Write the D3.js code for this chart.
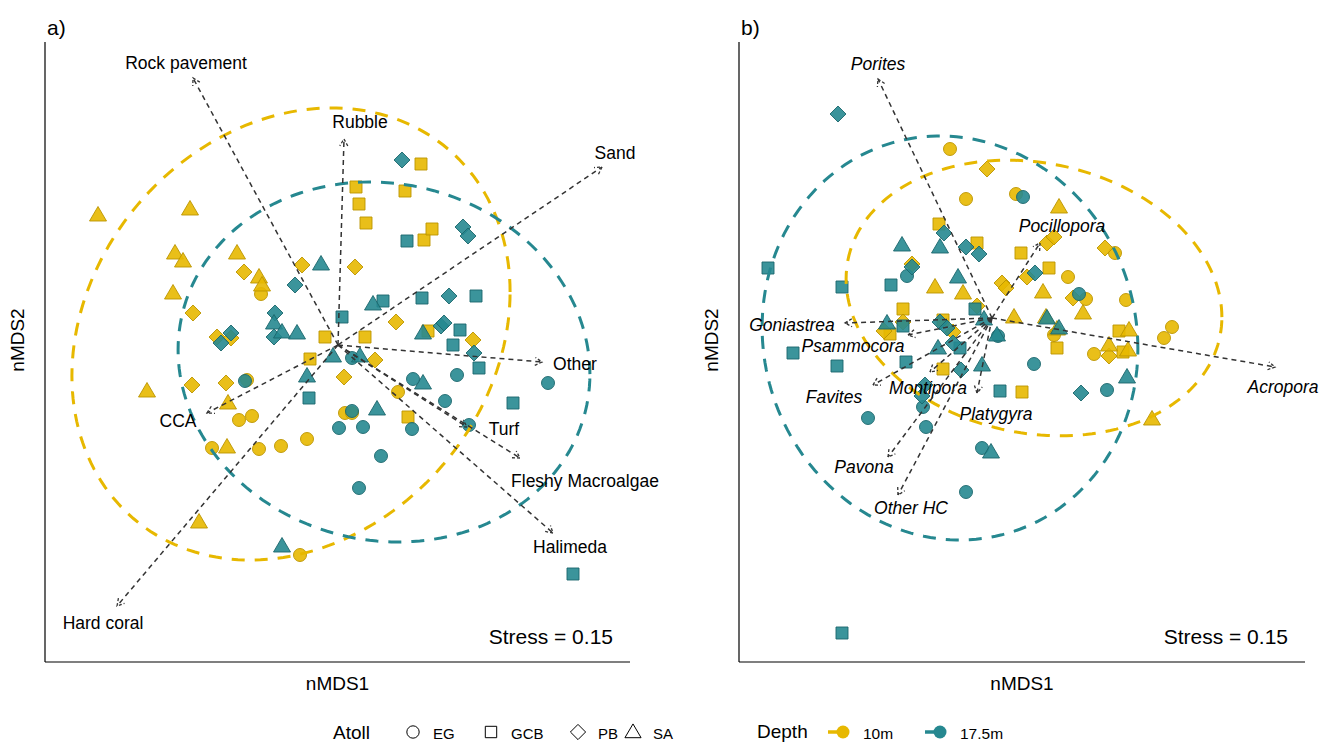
<!DOCTYPE html>
<html><head><meta charset="utf-8">
<script src="https://cdn.jsdelivr.net/npm/d3@7"></script>
<style>body{margin:0;background:#fff} svg{display:block} text{font-family:"Liberation Sans",Arial,Helvetica,sans-serif;fill:#000}</style>
</head><body><svg id="chart" width="1319" height="743"></svg>
<script>
// ---------- DATA ----------
const atolls = ["EG", "GCB", "PB", "SA"];
const depths = ["10m", "17.5m"];
const stressText = "Stress = 0.15";

// Panel a: site scores (nMDS1, nMDS2) by atoll & depth
const a_EG_10 = [[-0.77,0.51],[-0.91,-0.35],[-0.99,-0.75],[-0.86,-0.71],[-1.26,-1.03],[-0.79,-1.04],[-0.57,-1.01],[-0.31,-0.94],[-0.38,-2.10],[0.07,-0.68],[0.14,-0.68],[0.60,-0.47]];
const a_GCB_10 = [[0.83,1.81],[0.18,1.58],[0.67,1.54],[0.21,1.41],[0.28,1.22],[0.86,1.05],[0.94,1.16],[-0.13,0.08],[0.27,0.08],[-0.28,-0.14],[0.90,0.14],[0.70,-0.72]];
const a_PB_10 = [[-0.36,0.80],[0.17,0.78],[-0.94,0.73],[-1.45,0.32],[-1.21,0.08],[-1.07,0.07],[-1.46,-0.40],[-1.12,-0.38],[0.37,-0.15],[0.06,-0.32],[0.58,0.23],[1.35,0.05]];
const a_SA_10 = [[-2.40,1.30],[-1.48,1.36],[-1.63,0.92],[-1.55,0.84],[-1.01,0.92],[-0.79,0.68],[-0.76,0.60],[-1.65,0.52],[-1.91,-0.46],[-1.10,-0.58],[-1.11,-1.02],[-1.39,-1.77]];
const a_EG_17 = [[-0.93,-0.36],[0.14,-0.13],[0.14,-0.66],[0.01,-0.83],[0.25,-0.82],[0.75,-0.34],[1.19,-0.30],[1.07,-0.56],[0.74,-0.84],[1.31,-0.80],[2.10,-0.38],[0.43,-1.11],[0.21,-1.43]];
const a_GCB_17 = [[0.04,0.28],[-0.29,-0.53],[0.69,1.04],[0.45,0.44],[0.84,0.47],[1.38,0.49],[1.22,0.15],[1.15,0.00],[1.41,-0.23],[1.75,-0.58],[2.35,-2.29]];
const a_PB_17 = [[-0.43,0.60],[-0.63,0.32],[-0.64,0.08],[-1.07,0.12],[-1.17,0.02],[0.64,1.85],[1.25,1.18],[1.30,1.09],[1.11,0.49],[1.03,0.19],[1.06,0.22],[1.36,-0.08]];
const a_SA_17 = [[-0.17,0.81],[-0.64,0.22],[-0.56,0.13],[-0.41,0.12],[0.35,0.41],[-0.05,-0.11],[0.22,-0.11],[-0.31,-0.31],[0.39,-0.64],[0.85,0.12],[0.85,-0.38],[-0.56,-2.01]];

// Panel a: benthic category vectors (arrow tip, label position)
const a_vecNames = ["Rock pavement","Rubble","Sand","Other","Turf","Fleshy Macroalgae","Halimeda","CCA","Hard coral"];
const a_vecTips = [[-1.45,2.67],[0.06,2.06],[2.64,1.78],[2.04,-0.17],[1.29,-0.82],[1.82,-1.13],[2.15,-1.88],[-1.31,-0.68],[-2.21,-2.61]];
const a_vecLabels = [[-1.52,2.82],[0.22,2.23],[2.77,1.92],[2.37,-0.19],[1.66,-0.84],[2.47,-1.36],[2.32,-2.02],[-1.60,-0.76],[-2.35,-2.78]];

// Panel b: site scores
const b_EG_10 = [[-0.42,1.69],[-0.26,1.19],[0.24,1.24],[0.76,0.41],[1.23,0.65],[0.94,0.19],[1.34,0.18],[0.62,-0.17],[1.02,-0.36],[1.72,-0.20],[1.80,-0.09]];
const b_GCB_10 = [[-0.53,0.94],[-0.15,0.75],[0.29,0.65],[0.57,0.50],[-0.89,0.09],[-0.49,-0.02],[-1.02,-0.16],[-0.49,-0.51],[0.30,-0.74],[0.65,-0.30],[1.27,-0.13],[1.31,-0.34]];
const b_PB_10 = [[-0.05,1.49],[-0.80,0.54],[0.10,0.35],[0.14,0.30],[0.35,0.41],[0.55,0.75],[0.62,0.81],[0.81,0.20],[1.13,0.70],[-0.15,0.12],[-0.89,-0.04],[-0.39,-0.14],[-1.08,-0.13],[1.17,-0.38]];
const b_SA_10 = [[0.67,1.11],[-0.57,0.31],[-0.29,0.25],[0.51,0.26],[0.22,0.01],[0.54,0.01],[0.65,-0.11],[0.91,0.05],[1.37,-0.12],[1.17,-0.27],[1.36,-0.32],[1.60,-1.01]];
const b_EG_17 = [[0.31,1.21],[-0.85,0.42],[0.87,0.24],[0.06,-0.18],[0.42,-0.46],[1.15,-0.72],[-1.24,-1.00],[-0.69,-0.89],[-0.66,-1.09],[-0.10,-1.30],[-0.26,-1.74]];
const b_GCB_17 = [[-2.24,0.50],[-1.50,0.31],[-1.01,0.33],[-0.89,-0.08],[-0.17,0.09],[-1.99,-0.35],[-1.55,-0.48],[-0.86,-0.44],[-0.32,-0.30],[0.08,-0.73],[-1.50,-3.15]];
const b_PB_17 = [[-1.54,2.04],[-0.48,0.85],[-0.26,0.71],[-0.13,0.64],[-0.80,0.51],[0.43,0.45],[-0.52,-0.04],[-0.45,-0.10],[-0.39,-0.25],[-0.31,-0.52],[-0.67,-0.67],[-0.70,-0.78],[0.89,-0.75]];
const b_SA_17 = [[-0.90,0.73],[-0.52,0.71],[-0.34,0.41],[-1.05,-0.05],[-0.08,-0.01],[0.05,-0.17],[0.55,0.00],[0.67,-0.10],[-0.54,-0.30],[-0.10,-0.47],[1.35,-0.59],[-0.01,-1.34]];

// Panel b: hard coral genus vectors
const b_vecNames = ["Porites","Pocillopora","Acropora","Goniastrea","Psammocora","Favites","Montipora","Platygyra","Pavona","Other HC"];
const b_vecTips = [[-1.14,2.39],[0.48,0.75],[2.83,-0.49],[-1.47,-0.05],[-0.84,-0.17],[-1.19,-0.67],[-0.62,-0.54],[-0.15,-0.75],[-1.04,-1.39],[-0.94,-1.77]];
const b_vecLabels = [[-1.14,2.54],[0.70,0.92],[2.91,-0.69],[-2.00,-0.07],[-1.39,-0.28],[-1.58,-0.79],[-0.64,-0.70],[0.04,-0.96],[-1.28,-1.49],[-0.81,-1.90]];

// 95% ellipses per depth: [centerX, centerY, varX, varY, covXY]
const a_ellipses = {"10m": [-0.47, 0.11, 4.80, 5.11, 0.92], "17.5m": [0.46, -0.17, 4.24, 3.24, -0.25]};
const b_ellipses = {"10m": [0.42, 0.20, 3.53, 1.90, -0.36], "17.5m": [-0.42, -0.20, 3.53, 4.08, -0.20]};

// ---------- STYLE ----------
const fillCol = {"10m": "#E7B800", "17.5m": "#268890"};
const strokeCol = {"10m": "#BB9500", "17.5m": "#1C676D"};

function shapePath(atoll, k) {
  k = k || 1;
  if (atoll === "EG") { const r = 6.5 * k; return `M${r},0A${r},${r} 0 1,1 ${-r},0A${r},${r} 0 1,1 ${r},0Z`; }
  if (atoll === "GCB") { const h = 6 * k; return `M${-h},${-h}H${h}V${h}H${-h}Z`; }
  if (atoll === "PB") { const h = 8 * k; return `M0,${-h}L${h},0L0,${h}L${-h},0Z`; }
  return `M0,${-8.5 * k}L${8.5 * k},${6 * k}L${-8.5 * k},${6 * k}Z`;
}

const svg = d3.select("#chart");

function drawPanel(cfg) {
  const x = d3.scaleLinear().domain(cfg.xDomain).range([cfg.left, cfg.right]);
  const y = d3.scaleLinear().domain(cfg.yDomain).range([cfg.bottom, cfg.top]);
  const g = svg.append("g");

  // points
  const groups = [];
  depths.forEach(dep => atolls.forEach(at => groups.push({dep, at, pts: cfg.sites[dep][at]})));
  groups.forEach(gr => {
    g.selectAll(null).data(gr.pts).enter().append("path")
      .attr("d", shapePath(gr.at))
      .attr("transform", d => `translate(${x(d[0])},${y(d[1])})`)
      .attr("fill", fillCol[gr.dep]).attr("fill-opacity", 0.9)
      .attr("stroke", strokeCol[gr.dep]).attr("stroke-width", 1).attr("stroke-opacity", 0.9);
  });

  // ellipses
  const line = d3.line().x(d => x(d[0])).y(d => y(d[1])).curve(d3.curveLinearClosed);
  depths.forEach(dep => {
    const [cx, cy, vx, vy, cxy] = cfg.ellipses[dep];
    const l11 = Math.sqrt(vx), l21 = cxy / l11, l22 = Math.sqrt(vy - l21 * l21);
    const pts = d3.range(0, 2 * Math.PI, Math.PI / 90).map(t => {
      const c = Math.cos(t), s = Math.sin(t);
      return [cx + l11 * c, cy + l21 * c + l22 * s];
    });
    g.append("path").attr("d", line(pts)).attr("fill", "none")
      .attr("stroke", fillCol[dep]).attr("stroke-width", 3)
      .attr("stroke-dasharray", "13,10");
  });

  // vectors
  const ox = x(0), oy = y(0);
  cfg.vecTips.forEach((t, i) => {
    const tx = x(t[0]), ty = y(t[1]);
    g.append("line").attr("x1", ox).attr("y1", oy).attr("x2", tx).attr("y2", ty)
      .attr("stroke", "#333").attr("stroke-width", 1.5).attr("stroke-dasharray", "5,4");
    const ang = Math.atan2(ty - oy, tx - ox), L = 8, a = Math.PI / 6;
    const head = [[tx - L * Math.cos(ang - a), ty - L * Math.sin(ang - a)], [tx, ty], [tx - L * Math.cos(ang + a), ty - L * Math.sin(ang + a)]];
    g.append("path").attr("d", d3.line()(head)).attr("fill", "none")
      .attr("stroke", "#333").attr("stroke-width", 1.3).attr("stroke-dasharray", "3,2");
    const lp = cfg.vecLabels[i];
    g.append("text").attr("x", x(lp[0])).attr("y", y(lp[1]))
      .attr("text-anchor", "middle").attr("dominant-baseline", "central")
      .style("font-size", "17.5px").style("font-style", cfg.italic ? "italic" : "normal")
      .text(cfg.vecNames[i]);
  });

  // axes lines (no ticks)
  g.append("line").attr("x1", cfg.left).attr("x2", cfg.left).attr("y1", cfg.top).attr("y2", cfg.bottom)
    .attr("stroke", "#000").attr("stroke-width", 1.2);
  g.append("line").attr("x1", cfg.left).attr("x2", cfg.right).attr("y1", cfg.bottom).attr("y2", cfg.bottom)
    .attr("stroke", "#000").attr("stroke-width", 1.2);

  g.append("text").attr("x", (cfg.left + cfg.right) / 2).attr("y", cfg.bottom + 21)
    .attr("text-anchor", "middle").attr("dominant-baseline", "central").style("font-size", "19px").text("nMDS1");
  g.append("text").attr("transform", `translate(${cfg.left - 28},${340}) rotate(-90)`)
    .attr("text-anchor", "middle").attr("dominant-baseline", "central").style("font-size", "19px").text("nMDS2");
  g.append("text").attr("x", cfg.left + 2).attr("y", 27)
    .attr("dominant-baseline", "central").style("font-size", "21px").text(cfg.tag);
  g.append("text").attr("x", cfg.right - 17).attr("y", 636)
    .attr("text-anchor", "end").attr("dominant-baseline", "central").style("font-size", "21px").text(stressText);
}

drawPanel({
  left: 45, right: 630, top: 42, bottom: 662,
  xDomain: [-2.93, 2.92], yDomain: [-3.17, 3.03], tag: "a)", italic: false,
  sites: {"10m": {EG: a_EG_10, GCB: a_GCB_10, PB: a_PB_10, SA: a_SA_10},
          "17.5m": {EG: a_EG_17, GCB: a_GCB_17, PB: a_PB_17, SA: a_SA_17}},
  ellipses: a_ellipses, vecTips: a_vecTips, vecLabels: a_vecLabels, vecNames: a_vecNames
});
drawPanel({
  left: 739, right: 1305, top: 42, bottom: 662,
  xDomain: [-2.53, 3.13], yDomain: [-3.44, 2.76], tag: "b)", italic: true,
  sites: {"10m": {EG: b_EG_10, GCB: b_GCB_10, PB: b_PB_10, SA: b_SA_10},
          "17.5m": {EG: b_EG_17, GCB: b_GCB_17, PB: b_PB_17, SA: b_SA_17}},
  ellipses: b_ellipses, vecTips: b_vecTips, vecLabels: b_vecLabels, vecNames: b_vecNames
});

// ---------- LEGEND ----------
const lg = svg.append("g");
const ly = 732;
lg.append("text").attr("x", 333).attr("y", ly).attr("dominant-baseline", "central").style("font-size", "19px").text("Atoll");
const atollKeyX = [413, 491, 578, 633];
atolls.forEach((at, i) => {
  lg.append("path").attr("d", shapePath(at, 0.95)).attr("transform", `translate(${atollKeyX[i]},${ly})`)
    .attr("fill", "none").attr("stroke", "#000").attr("stroke-width", 1);
  lg.append("text").attr("x", atollKeyX[i] + 20).attr("y", ly + 1).attr("dominant-baseline", "central")
    .style("font-size", "15px").text(at);
});
lg.append("text").attr("x", 757).attr("y", ly - 1).attr("dominant-baseline", "central").style("font-size", "19px").text("Depth");
const depthKeyX = [843, 940];
depths.forEach((dep, i) => {
  const cx = depthKeyX[i];
  lg.append("line").attr("x1", cx - 15).attr("x2", cx).attr("y1", ly).attr("y2", ly)
    .attr("stroke", fillCol[dep]).attr("stroke-width", 3.5);
  lg.append("circle").attr("cx", cx).attr("cy", ly).attr("r", 6.5).attr("fill", fillCol[dep]);
  lg.append("text").attr("x", cx + 20).attr("y", ly + 1).attr("dominant-baseline", "central")
    .style("font-size", "15.5px").text(dep);
});
</script></body></html>
